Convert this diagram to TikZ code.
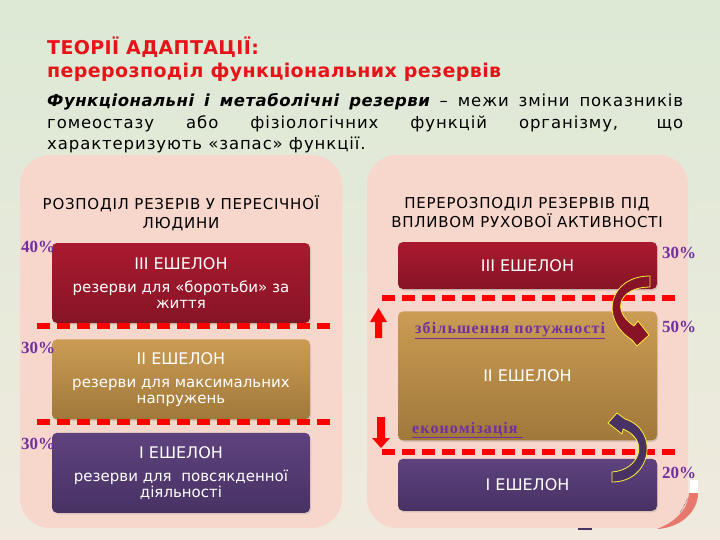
\documentclass[tikz,border=0pt]{standalone}
\usepackage{fontspec}
\setmainfont{DejaVu Sans}
\newfontfamily\pctfont{Liberation Serif}
\usepackage{xcolor}
\usepackage{tikz}
\usetikzlibrary{positioning,shadows}
\definecolor{BgTop}{RGB}{220,233,213}
\definecolor{BgBottom}{RGB}{240,234,222}
\definecolor{PanelPink}{RGB}{247,214,204}
\definecolor{HighTop}{RGB}{170,26,46}
\definecolor{HighBottom}{RGB}{134,20,38}
\definecolor{MidTop}{RGB}{203,156,84}
\definecolor{MidBottom}{RGB}{160,120,58}
\definecolor{LowTop}{RGB}{94,66,126}
\definecolor{LowBottom}{RGB}{72,50,100}
\definecolor{CutRed}{RGB}{255,0,0}
\definecolor{TitleRed}{RGB}{230,20,25}
\definecolor{PctPurple}{RGB}{112,48,160}
\definecolor{ArrowYellow}{RGB}{255,240,60}
\definecolor{DecoRed}{RGB}{230,120,110}
\tikzset{
  panel/.style={
    fill=PanelPink,
    rounded corners=30pt
  },
  echbox/.style={
    rounded corners=5pt,
    align=center,
    text=white,
    font=\fontsize{15}{16}\selectfont,
    drop shadow={shadow xshift=1pt, shadow yshift=-1.5pt, opacity=0.25}
  },
  highbox/.style={echbox, top color=HighTop, bottom color=HighBottom},
  midbox/.style={echbox, top color=MidTop, bottom color=MidBottom},
  lowbox/.style={echbox, top color=LowTop, bottom color=LowBottom},
  cutline/.style={draw=CutRed, line width=6pt, dash pattern=on 13pt off 7pt},
  heading/.style={
    align=center,
    inner sep=0pt,
    font=\fontsize{15}{19}\selectfont\addfontfeature{LetterSpace=5}
  },
  pct/.style={
    text=PctPurple,
    inner sep=0pt,
    font=\pctfont\bfseries\fontsize{17}{17}\selectfont
  },
  shiftlabel/.style={
    text=PctPurple,
    inner sep=0pt,
    anchor=base west,
    font=\pctfont\bfseries\fontsize{16}{16}\selectfont\addfontfeature{LetterSpace=7}
  },
  turnarrow/.style={draw=ArrowYellow, line width=0.8pt, line join=round},
  liftarrow/.style={fill=CutRed}
}
\begin{document}
\begin{tikzpicture}[x=1pt, y=-1pt, node distance=16pt]
  \useasboundingbox (0,0) rectangle (720,540);
  \shade[top color=BgTop, bottom color=BgBottom] (0,0) rectangle (720,540);

  \node[anchor=base west, inner sep=0pt, align=left, text=TitleRed,
    font=\fontsize{19}{23}\selectfont\addfontfeature{LetterSpace=2}\bfseries] (title) at (47,78)
    {ТЕОРІЇ АДАПТАЦІЇ:\\перерозподіл функціональних резервів};
  \node[anchor=base west, inner sep=0pt, align=left,
    font=\fontsize{16.5}{21.5}\selectfont\addfontfeature{LetterSpace=5.5}] (body) at (47,150)
    {\makebox[636pt][s]{{\addfontfeature{LetterSpace=3}\bfseries\itshape Функціональні і метаболічні резерви} – межи зміни показників}\\
     \makebox[636pt][s]{гомеостазу або фізіологічних функцій організму, що}\\
     характеризують «запас» функції.};

  \fill[panel] (20,155) rectangle (342,528);
  \fill[panel] (367,155) rectangle (688,528);

  \node[heading] (lhead) at (181,213) {РОЗПОДІЛ РЕЗЕРІВ У ПЕРЕСІЧНОЇ\\ЛЮДИНИ};
  \node[heading] (rhead) at (527,213) {ПЕРЕРОЗПОДІЛ РЕЗЕРВІВ ПІД\\ВПЛИВОМ РУХОВОЇ АКТИВНОСТІ};

  \node[highbox, minimum width=258pt, minimum height=80pt] (l3) at (181,283)
    {{\fontsize{16}{16}\selectfont III ЕШЕЛОН}\\[7pt]резерви для «боротьби» за\\життя};
  \node[midbox, minimum width=258pt, minimum height=80pt, below=16pt of l3] (l2)
    {{\fontsize{16}{16}\selectfont II ЕШЕЛОН}\\[7pt]резерви для максимальних\\напружень};
  \node[lowbox, minimum width=258pt, minimum height=80pt, below=13pt of l2] (l1)
    {{\fontsize{16}{16}\selectfont I ЕШЕЛОН}\\[7pt]резерви для \ повсякденної\\діяльності};

  \node[highbox, minimum width=259pt, minimum height=47pt, font=\fontsize{16}{16}\selectfont] (r3) at (527.5,265.5) {III ЕШЕЛОН};
  \node[midbox, minimum width=259pt, minimum height=129pt, font=\fontsize{16}{16}\selectfont, below=22pt of r3] (r2) {II ЕШЕЛОН};
  \node[lowbox, minimum width=259pt, minimum height=52pt, font=\fontsize{16}{16}\selectfont, below=18pt of r2] (r1) {I ЕШЕЛОН};

  \draw[cutline] (37,326) -- (332,326);
  \draw[cutline] (37,422) -- (332,422);
  \draw[cutline] (382,298) -- (677,298);
  \draw[cutline] (382,452) -- (677,452);

  \node[pct] (p40) at (38,247) {40\%};
  \node[pct] (p30a) at (38,348) {30\%};
  \node[pct] (p30b) at (38,444) {30\%};
  \node[pct] (q30) at (679,253) {30\%};
  \node[pct] (q50) at (679,327) {50\%};
  \node[pct] (q20) at (679,473) {20\%};

  \node[shiftlabel] (gain) at (415,333) {\underline{збільшення потужності}};
  \node[shiftlabel] (econ) at (412,433) {\underline{економізація\ }};

  \fill[liftarrow] (375,338) -- (375,322) -- (370,322) -- (378.5,308) -- (387,322) -- (382,322) -- (382,338) -- cycle;
  \fill[liftarrow] (377,417) -- (377,438) -- (372,438) -- (381,448) -- (390,438) -- (385,438) -- (385,417) -- cycle;

  \filldraw[turnarrow, fill=HighBottom] (650,276) -- (650,287) .. controls (620,287) and (610,310) .. (634,326)
    -- (638,321) -- (649,335) -- (637,346) -- (632,340) .. controls (598,318) and (610,276) .. (650,276) -- cycle;
  \filldraw[turnarrow, fill=LowBottom] (612,472) .. controls (640,470) and (650,440) .. (623,429)
    -- (622,434) -- (608,423) -- (617,413) -- (625,419) .. controls (660,430) and (652,482) .. (612,482) -- cycle;

  \fill[white] (690,480) rectangle (698,493);
  \fill[DecoRed] (698,493) .. controls (698,512) and (680,528) .. (657,529) .. controls (675,522) and (688,510) .. (689,493) -- cycle;
  \draw[black, densely dotted, line width=0.4pt] (688,498) -- (680,513);
  \draw[LowBottom, line width=1.5pt] (578,529) -- (592,529);
\end{tikzpicture}
\end{document}
